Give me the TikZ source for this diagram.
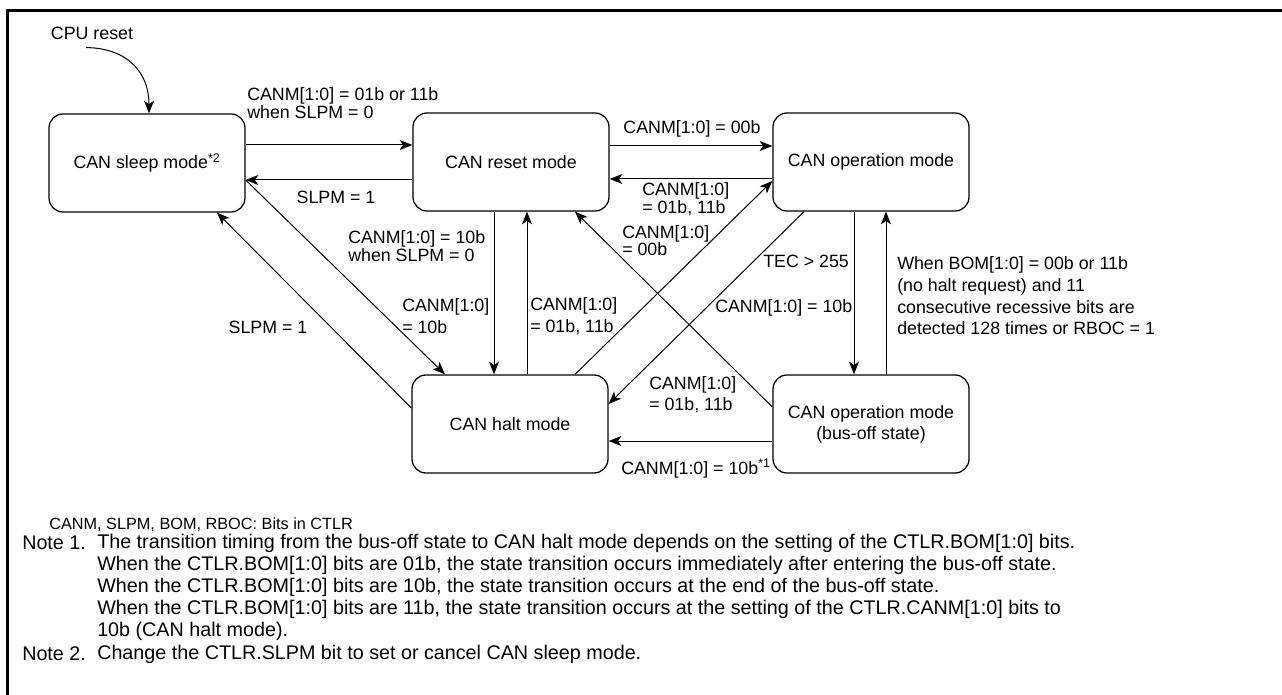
\documentclass[tikz,border=0pt]{standalone}
\usepackage{fontspec}
\setmainfont{Liberation Sans}
\usetikzlibrary{arrows.meta,calc}
\newcommand\fs[1]{\fontsize{13.35}{#1}\selectfont}
\newcommand\notefs{\fontsize{14.8}{16.5}\selectfont}
\begin{document}
\begin{tikzpicture}[x=0.75pt,y=-0.75pt,
  state/.style={draw,line width=0.95pt,rounded corners=10.5pt,minimum width=147pt,minimum height=73.5pt,inner sep=0pt,align=center,font=\fs{15.75}},
  arr/.style={line width=0.75pt,-{Stealth[length=9.5pt,width=7.5pt,inset=2.5pt]}},
  lbl/.style={inner sep=0pt,align=left,font=\fs{16}},
  note/.style={inner sep=0pt,align=left,anchor=west,font=\notefs},
]
\useasboundingbox (0,0) rectangle (1282,695);
\draw[line width=1.9pt] (1282,10.5) -- (7.5,10.5) -- (7.5,695);

% states
\node[state] (sleep) at (147,163) {CAN sleep mode\textsuperscript{*2}};
\node[state] (reset) at (511,162) {CAN reset mode};
\node[state] (op) at (871,162) {CAN operation mode};
\node[state] (halt) at (510,424) {CAN halt mode};
\node[state] (boff) at (871,424) {CAN operation mode\\(bus-off state)};

% CPU reset
\node[lbl] (cpu) at (92,33) {CPU reset};
\draw[arr] ($(cpu.south)+(-6,8)$) .. controls (127,48) and (149,72) .. ($(sleep.north)+(2,0)$);

% horizontal transitions
\draw[arr] ($(sleep.east)+(0,-18)$) -- ($(reset.west)+(0,-17)$);
\draw[arr] ($(reset.west)+(0,18)$) -- ($(sleep.east)+(0,17)$);
\draw[arr] ($(reset.east)+(0,-16)$) -- ($(op.west)+(0,-16)$);
\draw[arr] ($(op.west)+(0,17)$) -- ($(reset.east)+(0,17)$);
\draw[arr] ($(boff.west)+(0,17)$) -- ($(halt.east)+(0,17)$);

% vertical transitions
\draw[arr] ($(reset.south)+(-17,0)$) -- ($(halt.north)+(-16,0)$);
\draw[arr] ($(halt.north)+(17,0)$) -- ($(reset.south)+(16,0)$);
\draw[arr] ($(op.south)+(-17,0)$) -- ($(boff.north)+(-17,0)$);
\draw[arr] ($(boff.north)+(15,0)$) -- ($(op.south)+(15,0)$);

% diagonal transitions
\draw[arr] ($(sleep.east)+(0,17)$) -- ($(halt.north)+(-65,0)$);
\draw[arr] ($(halt.west)+(0,-16)$) -- ($(sleep.south)+(70,0)$);
\draw[arr] ($(halt.north)+(65,0)$) -- ($(op.west)+(0,19)$);
\draw[arr] ($(op.south)+(-67,0)$) -- ($(halt.east)+(0,-20)$);
\draw[arr] ($(boff.west)+(0,-17)$) -- ($(reset.south)+(64,0)$);

% labels
\node[lbl,font=\fs{13.5},anchor=west] (l1) at (247,103) {CANM[1:0] = 01b or 11b\\when SLPM = 0};
\node[lbl] (l2) at (336,197) {SLPM = 1};
\node[lbl] (l3) at (692,129) {CANM[1:0] = 00b};
\node[lbl,font=\fs{12},anchor=west] (l4) at (642,199.5) {CANM[1:0]\\= 01b, 11b};
\node[lbl,font=\fs{12.75},anchor=west] (l5) at (622,241) {CANM[1:0]\\= 00b};
\node[lbl,font=\fs{13.5},anchor=west] (l6) at (348,246.5) {CANM[1:0] = 10b\\when SLPM = 0};
\node[lbl] (l7) at (268,327) {SLPM = 1};
\node[lbl,font=\fs{16.5},anchor=west] (l8) at (402,316.5) {CANM[1:0]\\= 10b};
\node[lbl,font=\fs{16.5},anchor=west] (l9) at (530,316.5) {CANM[1:0]\\= 01b, 11b};
\node[lbl,anchor=west] (l10) at (763,261) {TEC > 255};
\node[lbl,anchor=west] (l11) at (715,308) {CANM[1:0] = 10b};
\node[lbl,font=\fs{16.3},anchor=west] (l12) at (897,296) {When BOM[1:0] = 00b or 11b\\(no halt request) and 11\\consecutive recessive bits are\\detected 128 times or RBOC = 1};
\node[lbl,font=\fs{15.75},anchor=west] (l13) at (649,395) {CANM[1:0]\\= 01b, 11b};
\node[lbl,anchor=west] (l14) at (621,469) {CANM[1:0] = 10b\textsuperscript{*1}};

% notes
\node[note,font=\fontsize{12.2}{14}\selectfont] (n0) at (49,525) {CANM, SLPM, BOM, RBOC: Bits in CTLR};
\node[note] (n1h) at (22,543) {Note 1.};
\node[note] (n1) at (97,587) {The transition timing from the bus-off state to CAN halt mode depends on the setting of the CTLR.BOM[1:0] bits.\\
When the CTLR.BOM[1:0] bits are 01b, the state transition occurs immediately after entering the bus-off state.\\
When the CTLR.BOM[1:0] bits are 10b, the state transition occurs at the end of the bus-off state.\\
When the CTLR.BOM[1:0] bits are 11b, the state transition occurs at the setting of the CTLR.CANM[1:0] bits to\\
10b (CAN halt mode).};
\node[note] (n2h) at (22,654) {Note 2.};
\node[note] (n2) at (97,654) {Change the CTLR.SLPM bit to set or cancel CAN sleep mode.};
\end{tikzpicture}
\end{document}
